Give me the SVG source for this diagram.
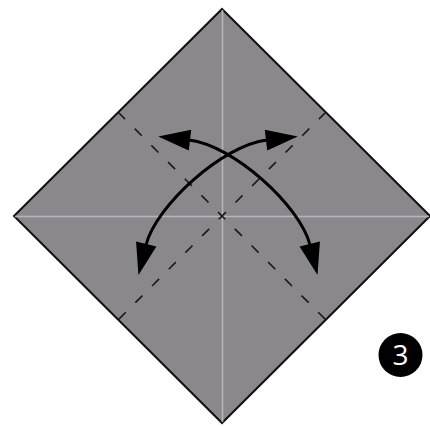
<svg xmlns="http://www.w3.org/2000/svg" width="430" height="426" viewBox="0 0 430 426">
  <style>
    .paper { fill: #8a888c; stroke: #111; stroke-width: 2; stroke-linejoin: miter; }
    .crease { stroke: #b6b6b8; stroke-width: 1.5; fill: none; }
    .valley { stroke: #1a1a1a; stroke-width: 1.6; fill: none; stroke-dasharray: 10 13.6; }
    .arrow { stroke: #000; stroke-width: 3; fill: none; marker-start: url(#head); marker-end: url(#head); }
    .badge { fill: #000; }
    .num { fill: #fff; font-family: "Open Sans", "DejaVu Sans", sans-serif; font-size: 28px; text-anchor: middle; }
  </style>
  <defs>
    <marker id="head" markerUnits="userSpaceOnUse" viewBox="-3 -11 36 22" markerWidth="36" markerHeight="22" refX="1" refY="0" orient="auto-start-reverse">
      <path d="M0,-10.5 L32,0 L0,10.5 Z" fill="#000"/>
    </marker>
  </defs>
  <rect width="430" height="426" fill="#fff"/>
  <g id="paper">
    <polygon class="paper" points="222,9 430,216 222,423 14,216"/>
    <line class="crease" x1="15" y1="216.5" x2="429" y2="216.5"/>
    <line class="crease" x1="222.5" y1="10" x2="222.5" y2="422"/>
    <line class="valley" x1="118" y1="112" x2="326" y2="320"/>
    <line class="valley" x1="326" y1="112" x2="118" y2="320"/>
  </g>
  <g id="connectors">
    <path class="arrow" d="M189,140 C233.7,145.2 300.3,206.2 310,245"/>
    <path class="arrow" d="M267,140 C222.3,145.2 155.7,206.2 146,245"/>
  </g>
  <g id="step-number">
    <circle class="badge" cx="400.5" cy="355" r="22"/>
    <text class="num" x="400.5" y="365">3</text>
  </g>
</svg>
